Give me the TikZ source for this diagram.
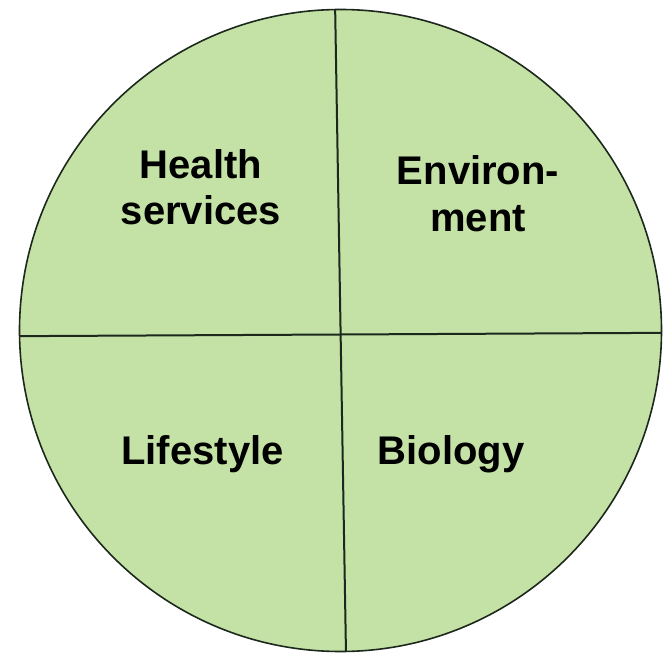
\documentclass[tikz,border=0pt]{standalone}
\usepackage{fontspec}
\setmainfont{Liberation Sans}
\definecolor{leaf}{RGB}{196,226,166}
\definecolor{edge}{RGB}{28,40,28}
\begin{document}
\begin{tikzpicture}[x=1pt,y=-1pt,
  sector/.style={font=\bfseries\fontsize{40}{47}\selectfont, text=black,
                 inner sep=0pt, align=center, anchor=base},
  divider/.style={draw=edge, line width=2pt}]
\useasboundingbox (0,0) rectangle (669,655);
% disc
\coordinate (c) at (340.5,330.5);
\fill[leaf] (c) circle[radius=321];
% quadrant dividers, clipped to the disc
\begin{scope}
  \clip (c) circle[radius=321];
  \coordinate (top) at (335,0);
  \coordinate (bottom) at (346.1,660);
  \coordinate (left) at (10,336.2);
  \coordinate (right) at (670,332.8);
  \draw[divider] (top) -- (bottom);
  \draw[divider] (left) -- (right);
\end{scope}
\draw[draw=edge, line width=1.6pt] (c) circle[radius=321];
% labels (base anchor sits on the last line of a two-line label)
\node[sector] (health) at (201,225) {Health\\services};
\node[sector] (env) at (478,231) {Environ-\\ment};
\node[sector] (life) at (202.5,464) {Lifestyle};
\node[sector] (bio) at (451,464) {Biology};
\end{tikzpicture}
\end{document}
